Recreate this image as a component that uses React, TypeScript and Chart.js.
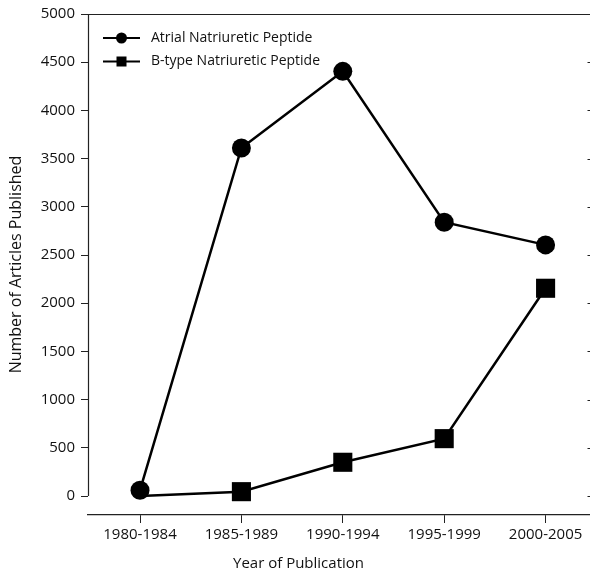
import React, { useEffect, useRef } from "react";
import { Chart, registerables } from "chart.js";

Chart.register(...registerables);

const categories = ["1980-1984", "1985-1989", "1990-1994", "1995-1999", "2000-2005"];
const anpValues = [60, 3610, 4405, 2840, 2605];
const bnpValues = [0, 45, 350, 595, 2155];
const yTickValues = [0, 500, 1000, 1500, 2000, 2500, 3000, 3500, 4000, 4500, 5000];
const seriesNames = ["Atrial Natriuretic Peptide", "B-type Natriuretic Peptide"];
const xTitle = "Year of Publication";
const yTitle = "Number of Articles Published";

const FONT = "'Open Sans', 'Noto Sans', sans-serif";
const INK = "#111";
const AXIS = "#222";

const framePlugin = {
  id: "frame",
  afterDraw(chart: any) {
    const { ctx, chartArea, scales } = chart;
    const y = scales.y;
    ctx.save();
    ctx.strokeStyle = AXIS;
    ctx.lineWidth = 1.2;
    // top border
    ctx.beginPath();
    ctx.moveTo(chartArea.left, chartArea.top + 0.5);
    ctx.lineTo(chartArea.right, chartArea.top + 0.5);
    ctx.stroke();
    // y axis line from 0 to max
    const y0 = y.getPixelForValue(0);
    const yMax = y.getPixelForValue(yTickValues[yTickValues.length - 1]);
    ctx.beginPath();
    ctx.moveTo(chartArea.left + 0.5, yMax);
    ctx.lineTo(chartArea.left + 0.5, y0);
    ctx.stroke();
    // right inward ticks (mostly cut off by the edge)
    ctx.lineWidth = 1;
    yTickValues.slice(0, -1).forEach((v) => {
      const py = Math.round(y.getPixelForValue(v)) + 0.5;
      ctx.beginPath();
      ctx.moveTo(chartArea.right - 2.5, py);
      ctx.lineTo(chartArea.right, py);
      ctx.stroke();
    });
    // legend
    const lx = chartArea.left + 15;
    const rows = [chartArea.top + 24, chartArea.top + 47.5];
    rows.forEach((ry, i) => {
      ctx.strokeStyle = "#000";
      ctx.lineWidth = 2;
      ctx.beginPath();
      ctx.moveTo(lx, ry);
      ctx.lineTo(lx + 37, ry);
      ctx.stroke();
      ctx.fillStyle = "#000";
      if (i === 0) {
        ctx.beginPath();
        ctx.arc(lx + 18.5, ry, 5.5, 0, Math.PI * 2);
        ctx.fill();
      } else {
        ctx.fillRect(lx + 13.5, ry - 5, 10, 10);
      }
      ctx.fillStyle = INK;
      ctx.font = `14px ${FONT}`;
      ctx.textBaseline = "middle";
      ctx.textAlign = "left";
      ctx.fillText(seriesNames[i], lx + 48, ry);
    });
    ctx.restore();
  },
};

export default function App() {
  const ref = useRef<HTMLCanvasElement | null>(null);
  useEffect(() => {
    const canvas = ref.current;
    if (!canvas) return;
    const chart = new Chart(canvas, {
      type: "line",
      data: {
        datasets: [
          {
            label: seriesNames[0],
            data: anpValues.map((v, i) => ({ x: i, y: v })),
            borderColor: "#000",
            backgroundColor: "#000",
            borderWidth: 2.5,
            tension: 0,
            pointStyle: "circle",
            pointRadius: 9.5,
            pointBorderWidth: 0,
            pointBackgroundColor: "#000",
            clip: false,
          },
          {
            label: seriesNames[1],
            data: bnpValues.map((v, i) => ({ x: i, y: v })),
            borderColor: "#000",
            backgroundColor: "#000",
            borderWidth: 2.5,
            tension: 0,
            pointStyle: "rect",
            pointRadius: [0, 13.5, 13.5, 13.5, 13.5],
            pointBorderWidth: 0,
            pointBackgroundColor: "#000",
            clip: false,
          },
        ],
      },
      options: {
        responsive: false,
        devicePixelRatio: 1,
        animation: false,
        events: [],
        layout: { autoPadding: false, padding: { top: 14, right: 0, left: 7, bottom: 0 } },
        plugins: {
          legend: { display: false },
          tooltip: { enabled: false },
          title: {
            display: true,
            text: xTitle,
            position: "bottom",
            color: INK,
            font: { family: FONT, size: 15, weight: "normal" },
            padding: { top: 4, bottom: 3 },
          },
        },
        scales: {
          x: {
            type: "linear",
            min: -0.513,
            max: 4.438,
            afterBuildTicks: (scale: any) => {
              scale.ticks = categories.map((_, i) => ({ value: i }));
            },
            grid: {
              display: true,
              drawOnChartArea: false,
              drawTicks: true,
              tickLength: 8,
              color: AXIS,
              lineWidth: 1,
            },
            border: { display: true, color: AXIS, width: 1.2 },
            ticks: {
              color: INK,
              font: { family: FONT, size: 15 },
              padding: 3,
              maxRotation: 0,
              autoSkip: false,
              callback: (value: any) => categories[Math.round(Number(value))] ?? "",
            },
            afterFit: (scale: any) => {
              scale.height = 36;
              scale.paddingLeft = 0;
              scale.paddingRight = 0;
            },
          },
          y: {
            type: "linear",
            min: -197,
            max: 5000,
            afterBuildTicks: (scale: any) => {
              scale.ticks = yTickValues.map((v) => ({ value: v }));
            },
            grid: {
              display: true,
              drawOnChartArea: false,
              drawTicks: true,
              tickLength: 7,
              color: AXIS,
              lineWidth: 1,
            },
            border: { display: false },
            ticks: {
              color: INK,
              font: { family: FONT, size: 15 },
              padding: 6,
              callback: (value: any) => String(value),
            },
            title: {
              display: true,
              text: yTitle,
              color: INK,
              font: { family: FONT, size: 16, weight: "normal" },
              padding: 0,
            },
            afterFit: (scale: any) => {
              scale.width = 81;
              scale.paddingTop = 0;
              scale.paddingBottom = 0;
            },
          },
        },
      },
      plugins: [framePlugin],
    });
    return () => chart.destroy();
  }, []);
  return (
    <div style={{ position: "absolute", left: 0, top: 0, width: 590, height: 576, overflow: "hidden", background: "#fff" }}>
      <canvas ref={ref} width={590} height={576} style={{ width: 590, height: 576, display: "block" }} />
    </div>
  );
}
